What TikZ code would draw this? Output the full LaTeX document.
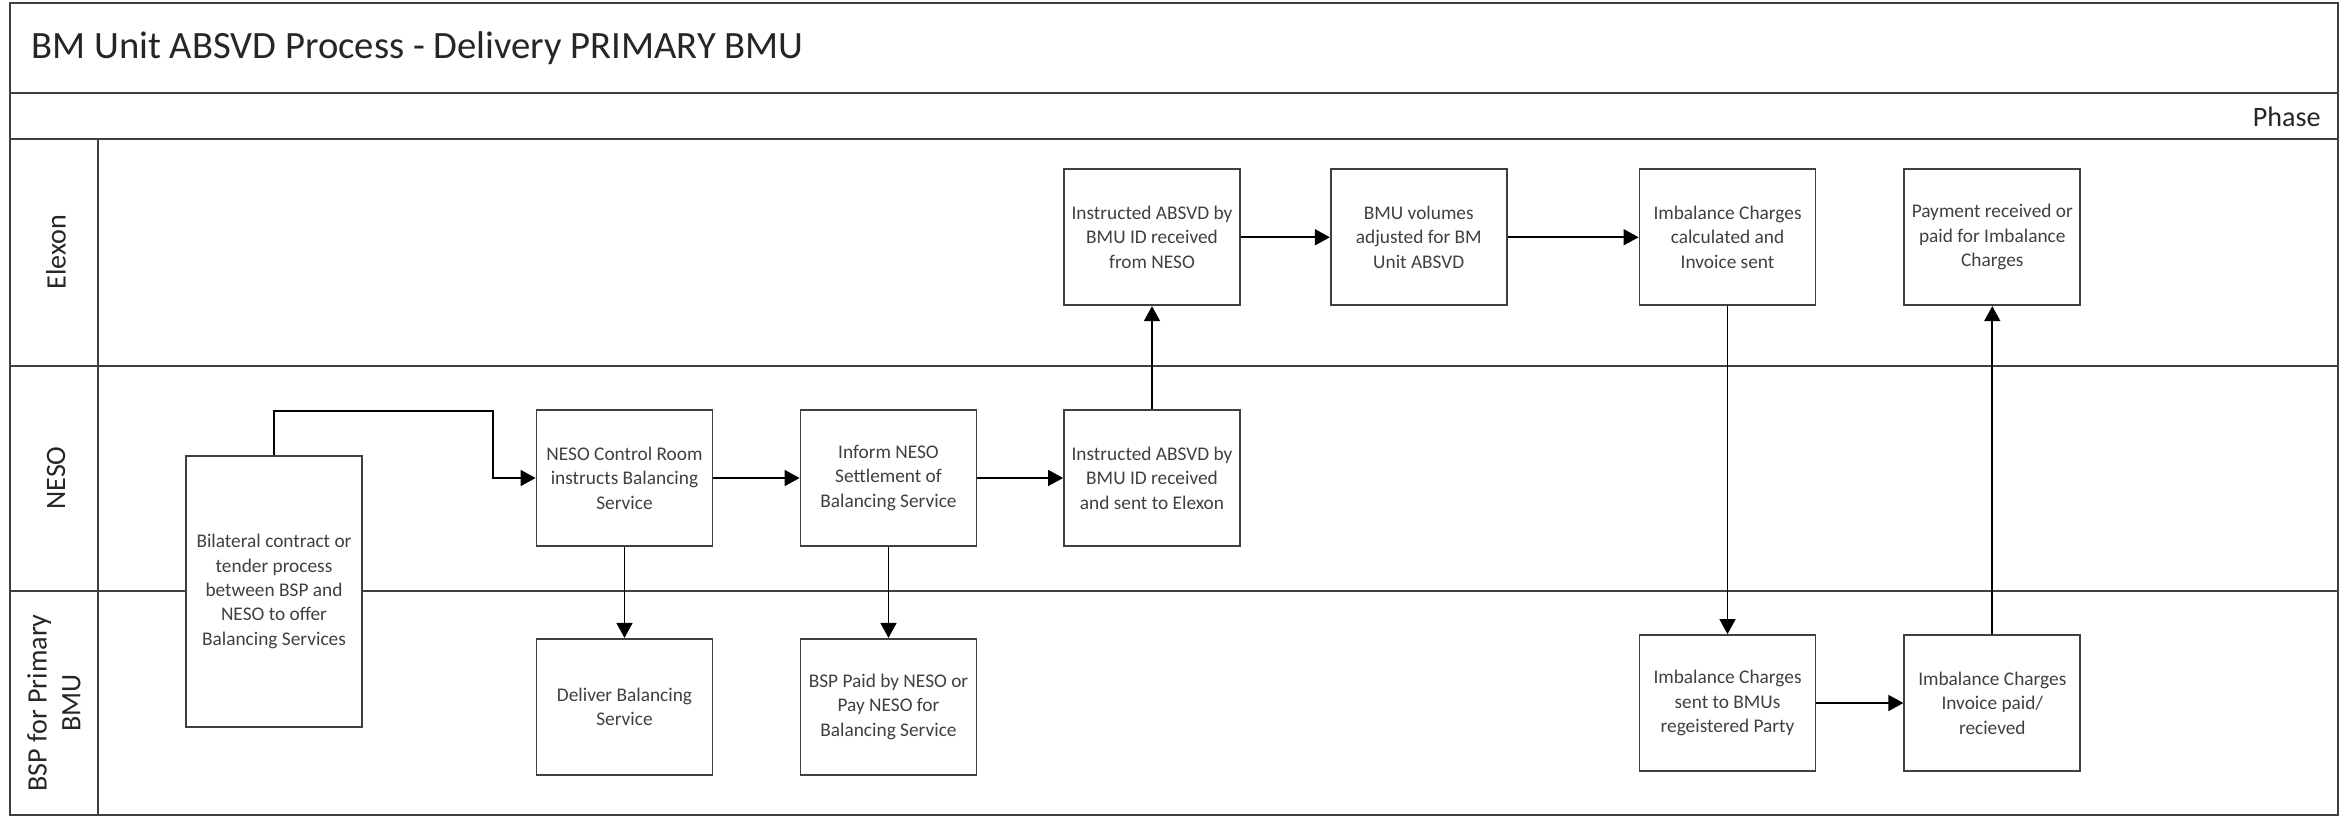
\documentclass[tikz,border=0pt]{standalone}
\usepackage{fontspec}
\setmainfont{Carlito}
\usepackage{tikz}
\usetikzlibrary{arrows.meta,calc,positioning}

\tikzset{
  lane/.style={draw=black!75, line width=0.6pt},
  procbox/.style={draw=black!75, line width=0.5pt, fill=white, minimum width=1.76cm, minimum height=1.36cm, inner sep=0pt, align=center, text=black!75, font=\fontsize{5.5}{6.95}\selectfont},
  flow/.style={-{Triangle[length=1.5mm,width=1.6mm]}, line width=0.45pt, black},
  lanelabel/.style={rotate=90, align=center, text=black!85, font=\fontsize{8}{9.6}\selectfont}
}

\begin{document}
\begin{tikzpicture}
\useasboundingbox (0,0) rectangle (23.49,-8.16);
% pool and lanes
\draw[lane] (0.10,-0.03) rectangle (23.38,-8.15);
\draw[lane] (0.10,-0.93) -- (23.38,-0.93);
\draw[lane] (0.10,-1.39) -- (23.38,-1.39);
\draw[lane] (0.10,-3.66) -- (23.38,-3.66);
\draw[lane] (0.10,-5.91) -- (23.38,-5.91);
\draw[lane] (0.98,-1.39) -- (0.98,-8.15);
\node[anchor=west, text=black!85, font=\fontsize{11}{13}\selectfont] (title) at (0.19,-0.48) {BM Unit ABSVD Process - Delivery PRIMARY BMU};
\node[anchor=east, text=black!85, font=\fontsize{8}{9.6}\selectfont] (phase) at (23.33,-1.17) {Phase};
\node[lanelabel] (elexon) at (0.56,-2.52) {Elexon};
\node[lanelabel] (neso) at (0.56,-4.78) {NESO};
\node[lanelabel] (bsp) at (0.54,-7.03) {BSP for Primary\\BMU};

% process steps
\node[procbox, minimum height=2.71cm] (bilat) at (2.74,-5.915) {Bilateral contract or\\tender process\\between BSP and\\NESO to offer\\Balancing Services};
\node[procbox] (ctrl) at (6.245,-4.78) {NESO Control Room\\instructs Balancing\\Service};
\node[procbox, below=0.91cm of ctrl] (deliver) {Deliver Balancing\\Service};
\node[procbox] (inform) at (8.885,-4.78) {Inform NESO\\Settlement of\\Balancing Service};
\node[procbox, below=0.91cm of inform] (bsppaid) {BSP Paid by NESO or\\Pay NESO for\\Balancing Service};
\node[procbox] (absvdneso) at (11.52,-4.78) {Instructed ABSVD by\\BMU ID received\\and sent to Elexon};
\node[procbox, above=1.03cm of absvdneso] (absvdelx) {Instructed ABSVD by\\BMU ID received\\from NESO};
\node[procbox, right=0.89cm of absvdelx] (volumes) {BMU volumes\\adjusted for BM\\Unit ABSVD};
\node[procbox, right=1.31cm of volumes] (imbcalc) {Imbalance Charges\\calculated and\\Invoice sent};
\node[procbox, right=0.87cm of imbcalc] (payment) {Payment received or\\paid for Imbalance\\Charges};
\node[procbox, below=3.28cm of imbcalc] (imbsent) {Imbalance Charges\\sent to BMUs\\regeistered Party};
\node[procbox, below=3.28cm of payment] (imbpaid) {Imbalance Charges\\Invoice paid/\\recieved};

% flows
\coordinate (bend) at (4.93,-4.11);
\draw[flow] (bilat.north) |- (bend) |- (ctrl.west);
\draw[flow] (ctrl) -- (inform);
\draw[flow] (inform) -- (absvdneso);
\draw[flow] (absvdneso) -- (absvdelx);
\draw[flow] (absvdelx) -- (volumes);
\draw[flow] (volumes) -- (imbcalc);
\draw[flow] (imbcalc) -- (imbsent);
\draw[flow] (imbsent) -- (imbpaid);
\draw[flow] (imbpaid) -- (payment);
\draw[flow] (ctrl) -- (deliver);
\draw[flow] (inform) -- (bsppaid);
\end{tikzpicture}
\end{document}
